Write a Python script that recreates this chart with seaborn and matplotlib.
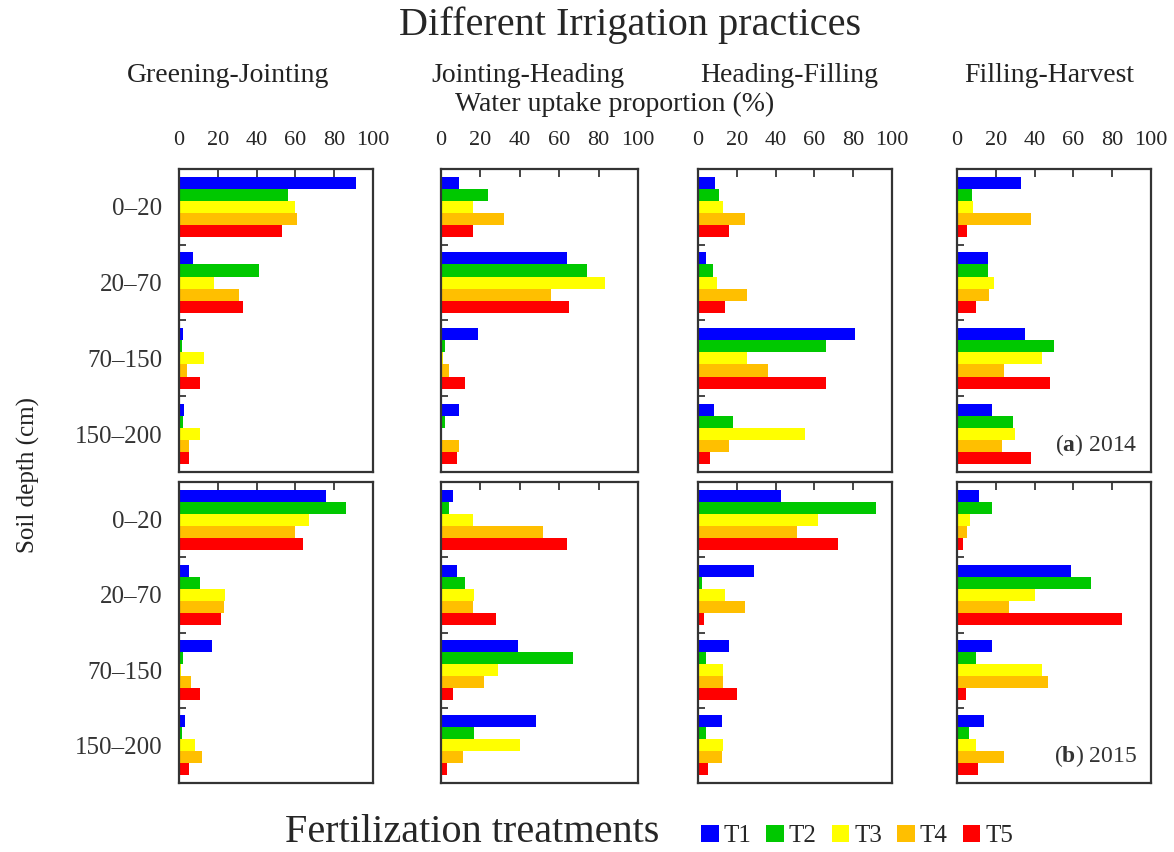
import numpy as np
import pandas as pd
import matplotlib
matplotlib.use("Agg")
import matplotlib.pyplot as plt
from matplotlib.patches import Patch
import seaborn as sns

sns.set_style("white")
plt.rcParams['font.family'] = ['Liberation Serif', 'DejaVu Serif']
plt.rcParams['mathtext.fontset'] = 'custom'
plt.rcParams['mathtext.rm'] = 'Liberation Serif'
plt.rcParams['mathtext.bf'] = 'Liberation Serif:bold'

# === Data (water uptake proportion, %) ===
depths = ["0–20", "20–70", "70–150", "150–200"]
treatments = ["T1", "T2", "T3", "T4", "T5"]
stages = ["Greening-Jointing", "Jointing-Heading", "Heading-Filling", "Filling-Harvest"]
colors = ["#0000ff", "#00c800", "#ffff00", "#ffbf00", "#ff0000"]

# rows = depth layers, columns = T1..T5
gj_2014 = [[91, 56, 60, 61, 53], [7, 41, 18, 31, 33], [2, 1.5, 13, 4, 11], [2.5, 2, 11, 5, 5]]
jh_2014 = [[9, 24, 16, 32, 16], [64, 74, 83, 56, 65], [19, 2, 1, 4, 12], [9, 2, 0.5, 9, 8]]
hf_2014 = [[9, 11, 13, 24, 16], [4, 7.5, 10, 25, 14], [81, 66, 25, 36, 66], [8, 18, 55, 16, 6]]
fh_2014 = [[33, 7.5, 8, 38, 5], [16, 16, 19, 16.5, 10], [35, 50, 44, 24, 48], [18, 29, 30, 23, 38]]

gj_2015 = [[76, 86, 67, 60, 64], [5, 11, 23.5, 23, 21.5], [17, 2, 1, 6, 11], [3, 1.5, 8, 12, 5]]
jh_2015 = [[6, 4, 16, 52, 64], [8, 12, 17, 16, 28], [39, 67, 29, 22, 6], [48, 17, 40, 11, 3]]
hf_2015 = [[43, 92, 62, 51, 72], [29, 2, 14, 24, 3], [16, 4, 13, 13, 20], [12.5, 4, 13, 12.5, 5]]
fh_2015 = [[11.5, 18, 6.5, 5, 3], [59, 69, 40, 27, 85], [18, 10, 44, 47, 4.5], [14, 6, 10, 24, 11]]

panels_2014 = [gj_2014, jh_2014, hf_2014, fh_2014]
panels_2015 = [gj_2015, jh_2015, hf_2015, fh_2015]


def to_long(values):
    rows = []
    for d, row in zip(depths, values):
        for t, v in zip(treatments, row):
            rows.append({"depth": d, "treatment": t, "uptake": v})
    return pd.DataFrame(rows)


W, H = 1174, 852
fig = plt.figure(figsize=(W / 100, H / 100), dpi=100)

col_px = [(179, 373), (441, 638), (698, 892), (957, 1151)]
row_px = [(169, 472), (482, 783)]

for r, panels in enumerate([panels_2014, panels_2015]):
    for c, values in enumerate(panels):
        x0, x1 = col_px[c]
        y0, y1 = row_px[r]
        ax = fig.add_axes([x0 / W, 1 - y1 / H, (x1 - x0) / W, (y1 - y0) / H])
        sns.barplot(data=to_long(values), y="depth", x="uptake", hue="treatment",
                    order=depths, hue_order=treatments, palette=colors, saturation=1,
                    orient="h", width=0.8, linewidth=0, legend=False, ax=ax)
        ax.set_xlim(0, 100)
        ax.set_ylim(3.5, -0.5)
        ax.set_xlabel("")
        ax.set_ylabel("")
        ax.xaxis.tick_top()
        ax.set_xticks([0, 20, 40, 60, 80, 100])
        ax.tick_params(axis="x", direction="in", length=6, width=1.2,
                       labelsize=16, pad=14, labeltop=(r == 0), top=True, bottom=False)
        ax.set_yticks(range(4))
        ax.set_yticks([0.5, 1.5, 2.5], minor=True)
        ax.tick_params(axis="y", which="major", length=0, labelsize=18, pad=12,
                       labelleft=(c == 0))
        ax.tick_params(axis="y", which="minor", direction="in", length=5, width=1.2, left=True)
        if c == 0:
            ax.set_yticklabels(depths, color="#333333")
        for s in ax.spines.values():
            s.set_linewidth(1.6)
            s.set_color("#333333")
        if c == 3:
            label = r"($\mathbf{a}$) 2014" if r == 0 else r"($\mathbf{b}$) 2015"
            ax.text(0.93, 0.045, label, transform=ax.transAxes, ha="right", va="bottom",
                    fontsize=17, color="#333333")

# Titles and labels
fig.text(630 / W, 1 - 25 / H, "Different Irrigation practices", ha="center", va="center", fontsize=29)
stage_x = [228, 528, 789, 1049]
for sx, st in zip(stage_x, stages):
    fig.text(sx / W, 1 - 75 / H, st, ha="center", va="center", fontsize=20, color="#222222")
fig.text(615 / W, 1 - 104 / H, "Water uptake proportion (%)", ha="center", va="center",
         fontsize=20, color="#222222")
fig.text(28 / W, 1 - 475 / H, "Soil depth (cm)", ha="center", va="center", rotation=90,
         fontsize=18, color="#222222")
fig.text(285 / W, 1 - 832 / H, "Fertilization treatments", ha="left", va="center", fontsize=29)

handles = [Patch(facecolor=col, edgecolor="none") for col in colors]
fig.legend(handles, treatments, loc="center", bbox_to_anchor=(857 / W, 1 - 836 / H),
           ncol=5, frameon=False, fontsize=18, handlelength=0.7, handleheight=0.7,
           handletextpad=0.2, columnspacing=0.6)

fig.savefig("out.png", dpi=100)
